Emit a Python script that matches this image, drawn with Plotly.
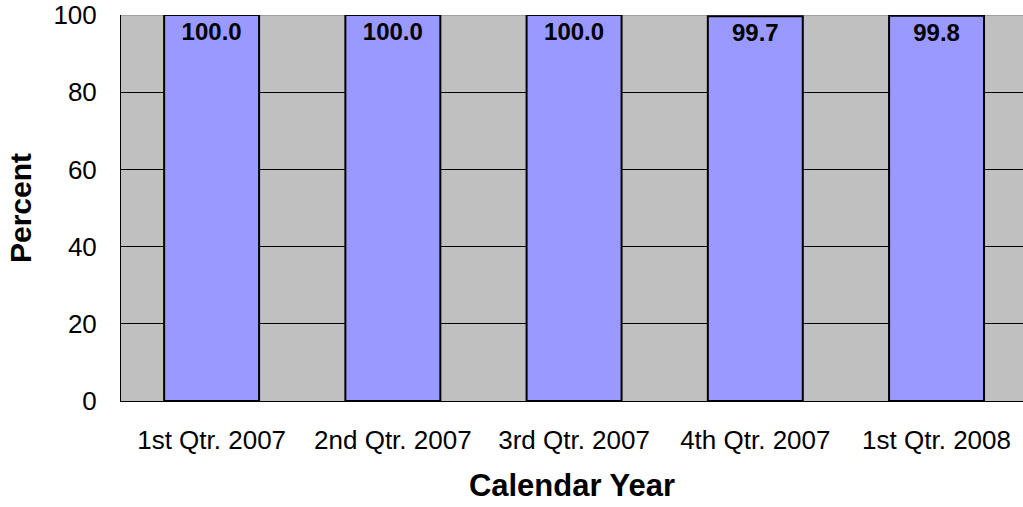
import plotly.graph_objects as go

quarters = ['1st Qtr. 2007', '2nd Qtr. 2007', '3rd Qtr. 2007', '4th Qtr. 2007', '1st Qtr. 2008']
percent = [100.0, 100.0, 100.0, 99.7, 99.8]
y_ticks = [0, 20, 40, 60, 80, 100]

FONT = 'Arial, Liberation Sans, sans-serif'

fig = go.Figure()
fig.add_trace(go.Bar(
    x=quarters,
    y=percent,
    width=0.524,
    marker=dict(color='#9999FF', line=dict(color='black', width=2)),
    text=[f'{v:.1f}' for v in percent],
    textposition='inside',
    insidetextanchor='end',
    textangle=0,
    textfont=dict(family=FONT, size=24, color='black', weight='bold'),
    hoverinfo='skip',
))

# gray frame line along the top of the plot area
fig.add_shape(type='line', xref='paper', yref='y', x0=0, x1=1, y0=100, y1=100,
              line=dict(color='#808080', width=1), layer='below')

fig.update_layout(
    width=1023, height=507,
    margin=dict(l=121, r=0, t=15, b=106),
    paper_bgcolor='white',
    plot_bgcolor='#C0C0C0',
    showlegend=False,
    font=dict(family=FONT, size=26, color='black'),
)
fig.update_xaxes(
    range=[-0.5, 4.477],
    automargin=False,
    showgrid=False,
    showline=True, linecolor='black', linewidth=1,
    ticks='', ticklabelstandoff=16,
    tickfont=dict(size=26),
    title=dict(text='<b>Calendar Year</b>', font=dict(size=31), standoff=20),
)
fig.update_yaxes(
    range=[0, 100],
    automargin=False,
    tickvals=y_ticks,
    ticklabeloverflow='allow',
    showgrid=True, gridcolor='black', gridwidth=1,
    showline=True, linecolor='black', linewidth=1,
    zeroline=False,
    ticks='', ticklabelstandoff=18,
    tickfont=dict(size=26),
    title=dict(text='<b>Percent</b>', font=dict(size=30), standoff=12),
)

# drop the default page margin so the figure fills the window
fig.write_html("out.html", config={'displayModeBar': False},
               post_script="document.body.style.margin='0';")
